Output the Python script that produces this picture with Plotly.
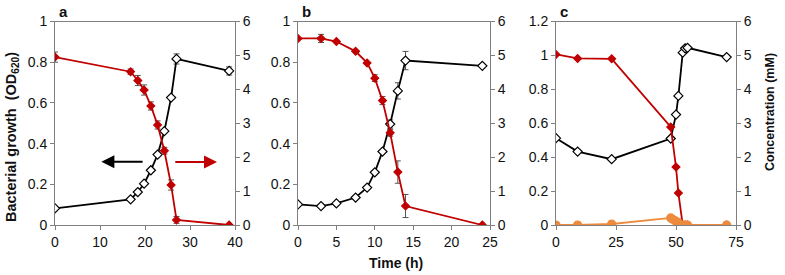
import plotly.graph_objects as go

W, H = 785, 275

# ---- Panel a data ----
a_time = [0, 16.8, 18.4, 19.8, 21.3, 22.8, 24.3, 25.8, 27.0, 38.7]
a_od = [0.082, 0.126, 0.162, 0.203, 0.269, 0.346, 0.461, 0.626, 0.816, 0.757]
a_od_err = [0, 0, 0, 0, 0, 0, 0, 0, 0.025, 0.02]
a_conc = [4.95, 4.52, 4.26, 3.98, 3.51, 2.95, 2.19, 1.18, 0.15, 0.0]
a_conc_err = [0.15, 0.08, 0.15, 0.15, 0.12, 0.12, 0.1, 0.15, 0.1, 0]

# ---- Panel b data ----
b_time = [0, 3, 5, 7.5, 9, 10, 11, 12, 13, 14, 24]
b_od = [0.101, 0.093, 0.106, 0.135, 0.184, 0.259, 0.361, 0.496, 0.659, 0.808, 0.782]
b_od_err = [0, 0, 0, 0, 0, 0, 0, 0.02, 0.04, 0.045, 0]
b_conc = [5.50, 5.50, 5.41, 5.12, 4.78, 4.33, 3.67, 2.72, 1.56, 0.56, 0.0]
b_conc_err = [0, 0.12, 0, 0, 0, 0.1, 0.12, 0.1, 0.33, 0.34, 0]

# ---- Panel c data ----
c_time = [0, 9, 23.2, 47.8, 50, 51, 52.8, 53.8, 54.8, 71.1]
c_od = [0.512, 0.433, 0.388, 0.51, 0.651, 0.761, 1.016, 1.042, 1.045, 0.990]
c_conc = [5.03, 4.91, 4.90, 2.89, 1.71, 0.94, 0.0, 0.0, 0.0, 0.0]
c_time_o = [0, 9, 23.2, 47.8, 48.6, 49.8, 50.8, 52.8, 53.8, 54.8, 71.1]
c_orange = [0.0, 0.0, 0.03, 0.21, 0.17, 0.12, 0.08, 0.0, 0.0, 0.0, 0.0]

x_ticks = {1: [0, 10, 20, 30, 40], 2: [0, 5, 10, 15, 20, 25], 3: [0, 25, 50, 75]}
x_ranges = {1: [0, 40], 2: [0, 25], 3: [0, 75]}
yl_ranges = {1: [0, 1], 2: [0, 1], 3: [0, 1.2]}
yl_dtick = {1: 0.2, 2: 0.2, 3: 0.2}
panel_letters = ["a", "b", "c"]

BLACK = "#000000"
RED = "#C00000"
ORANGE = "#EE8A3C"
AXIS = "#808080"
ERR = "#555555"

px_x = {1: (55, 235), 2: (298, 490), 3: (556, 736)}
px_y = (21.5, 225)

fig = go.Figure()

def line_trace(x, y, xa, ya, color, symbol, fill, err=None, size=7):
    tr = dict(x=x, y=y, xaxis=xa, yaxis=ya, mode="lines+markers",
              line=dict(color=color, width=1.8),
              marker=dict(symbol=symbol, size=size, color=fill,
                          line=dict(color=color, width=1.2)),
              showlegend=False, hoverinfo="skip")
    if err is not None:
        tr["error_y"] = dict(type="data", array=err, visible=True,
                             color=ERR, thickness=1, width=3)
    return go.Scatter(**tr)

# panel a
fig.add_trace(line_trace(a_time, a_conc, "x", "y2", RED, "diamond", RED, a_conc_err, size=6))
fig.add_trace(line_trace(a_time, a_od, "x", "y", BLACK, "diamond", "white", a_od_err))
# panel b
fig.add_trace(line_trace(b_time, b_conc, "x2", "y4", RED, "diamond", RED, b_conc_err, size=6))
fig.add_trace(line_trace(b_time, b_od, "x2", "y3", BLACK, "diamond", "white", b_od_err))
# panel c
fig.add_trace(line_trace(c_time, c_conc, "x3", "y6", RED, "diamond", RED, size=6))
fig.add_trace(line_trace(c_time, c_od, "x3", "y5", BLACK, "diamond", "white"))
fig.add_trace(line_trace(c_time_o, c_orange, "x3", "y6", ORANGE, "circle", ORANGE, size=8))

font = dict(family="Liberation Sans, Arial, sans-serif", size=14, color="#111")
layout = dict(width=W, height=H, margin=dict(l=0, r=0, t=0, b=0),
              plot_bgcolor="white", paper_bgcolor="white", font=font)

ydom = [1 - px_y[1] / H, 1 - px_y[0] / H]
for i in (1, 2, 3):
    xs = "" if i == 1 else str(i)
    yl = 2 * i - 1
    yr = 2 * i
    yl_s = "" if yl == 1 else str(yl)
    layout["xaxis" + xs] = dict(
        domain=[px_x[i][0] / W, px_x[i][1] / W], range=x_ranges[i],
        tickvals=x_ticks[i], anchor="y" + yl_s, showline=True, linecolor=AXIS,
        linewidth=1, mirror=True, ticks="outside", ticklen=4, tickcolor=AXIS,
        showgrid=False, zeroline=False, tickfont=font, automargin=False)
    layout["yaxis" + yl_s] = dict(
        domain=ydom, range=yl_ranges[i], dtick=yl_dtick[i], anchor="x" + xs,
        showline=True, linecolor=AXIS, linewidth=1, ticks="outside", ticklen=4,
        tickcolor=AXIS, showgrid=False, zeroline=False, tickfont=font,
        automargin=False)
    layout["yaxis" + str(yr)] = dict(
        range=[0, 6], dtick=1, overlaying="y" + yl_s, side="right",
        anchor="x" + xs, showline=True, linecolor=AXIS, linewidth=1,
        ticks="outside", ticklen=4, tickcolor=AXIS, showgrid=False,
        zeroline=False, tickfont=font, automargin=False)

fig.update_layout(**layout)

# panel letters
for i, lab in enumerate(panel_letters, start=1):
    fig.add_annotation(x=(px_x[i][0] + 8) / W, y=1 - 11 / H, xref="paper", yref="paper",
                       text="<b>%s</b>" % lab, showarrow=False,
                       font=dict(family="Liberation Sans, Arial", size=15, color="#111"),
                       xanchor="center", yanchor="middle")

# axis titles
fig.add_annotation(x=12 / W, y=1 - 137 / H, xref="paper", yref="paper",
                   text="<b>Bacterial growth  (OD<sub>620</sub>)</b>", textangle=-90,
                   xanchor="center", yanchor="middle",
                   showarrow=False, font=dict(family="Liberation Sans, Arial", size=14.5, color="#111"))
fig.add_annotation(x=770 / W, y=1 - 112 / H, xref="paper", yref="paper",
                   text="<b>Concentration (mM)</b>", textangle=-90,
                   xanchor="center", yanchor="middle",
                   showarrow=False, font=dict(family="Liberation Sans, Arial", size=12.5, color="#111"))
fig.add_annotation(x=396 / W, y=1 - 263 / H, xref="paper", yref="paper",
                   text="<b>Time (h)</b>", showarrow=False,
                   xanchor="center", yanchor="middle",
                   font=dict(family="Liberation Sans, Arial", size=14, color="#111"))

# direction arrows in panel a
fig.add_annotation(x=10.3, y=0.311, ax=19.8, ay=0.311, xref="x", yref="y",
                   axref="x", ayref="y", text="", showarrow=True, arrowhead=2,
                   arrowsize=1.3, arrowwidth=2, arrowcolor=BLACK)
fig.add_annotation(x=36.0, y=0.309, ax=26.4, ay=0.309, xref="x", yref="y",
                   axref="x", ayref="y", text="", showarrow=True, arrowhead=2,
                   arrowsize=1.3, arrowwidth=2, arrowcolor=RED)

fig.write_html("out.html", config={"displayModeBar": False},
               post_script="document.body.style.margin='0';")
